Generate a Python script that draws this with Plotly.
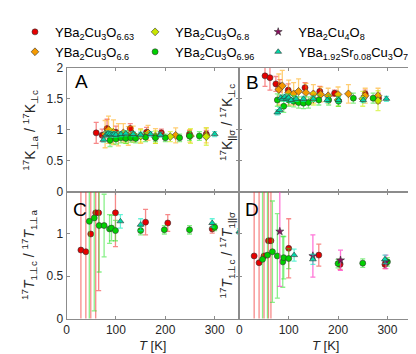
import plotly.graph_objects as go

# ---------------- data ----------------
# Panel A: 17K_perp_a / 17K_perp_c
A_T_663 = [60, 72, 82, 100, 129, 162, 192, 249, 283]
A_V_663 = [0.95, 0.91, 1.02, 0.96, 1.02, 0.96, 0.95, 0.93, 0.93]
A_E_663 = [0.17, 0.10, 0.15, 0.10, 0.08, 0.08, 0.06, 0.06, 0.06]
A_T_66 = [78, 85, 95, 105, 115, 125, 135, 150, 165, 180, 221, 250, 283]
A_V_66 = [0.93, 1.00, 0.96, 0.92, 0.95, 0.90, 0.93, 0.90, 0.95, 0.90, 0.91, 0.90, 0.91]
A_E_66 = [0.22, 0.22, 0.20, 0.18, 0.15, 0.15, 0.13, 0.12, 0.12, 0.12, 0.12, 0.10, 0.12]
A_T_68 = [90, 120, 150, 180, 210, 251, 283]
A_V_68 = [0.90, 0.88, 0.90, 0.88, 0.89, 0.90, 0.89]
A_E_68 = [0.12, 0.10, 0.10, 0.10, 0.08, 0.12, 0.14]
A_T_696 = [88, 100, 110, 120, 130, 140, 160, 180, 200, 229, 249, 269]
A_V_696 = [0.83, 0.85, 0.87, 0.86, 0.87, 0.86, 0.88, 0.87, 0.87, 0.87, 0.90, 0.90]
A_E_696 = [0.10, 0.08, 0.08, 0.08, 0.07, 0.07, 0.07, 0.06, 0.06, 0.06, 0.07, 0.07]
A_T_SR = [75, 80, 84, 88, 92, 96, 100, 110, 120, 135, 150, 170, 190, 300]
A_V_SR = [0.84, 0.92, 0.94, 0.93, 0.92, 0.93, 0.92, 0.93, 0.94, 0.93, 0.92, 0.93, 0.92, 0.93]
A_E_SR = [0.04] * 14

# Panel B: 17K_par_sigma / 17K_perp_c
B_T_663 = [52, 62, 74, 82, 99, 133, 163, 193, 255, 282]
B_V_663 = [1.87, 1.84, 1.74, 1.71, 1.64, 1.68, 1.62, 1.59, 1.58, 1.51]
B_E_663 = [0.17, 0.20, 0.12, 0.10, 0.10, 0.08, 0.08, 0.05, 0.06, 0.08]
B_T_66 = [80, 87, 100, 110, 120, 135, 150, 165, 180, 200, 221, 255, 281]
B_V_66 = [1.65, 1.71, 1.60, 1.58, 1.62, 1.60, 1.58, 1.57, 1.55, 1.57, 1.58, 1.55, 1.55]
B_E_66 = [0.25, 0.25, 0.20, 0.18, 0.20, 0.15, 0.15, 0.12, 0.12, 0.12, 0.15, 0.12, 0.12]
B_T_68 = [150, 200, 250, 281]
B_V_68 = [1.50, 1.48, 1.50, 1.47]
B_E_68 = [0.10, 0.10, 0.12, 0.16]
B_T_696 = [77, 90, 100, 110, 120, 130, 140, 161, 181, 201, 231, 271]
B_V_696 = [1.48, 1.38, 1.48, 1.46, 1.44, 1.43, 1.44, 1.48, 1.48, 1.46, 1.51, 1.51]
B_E_696 = [0.10, 0.10, 0.10, 0.09, 0.09, 0.09, 0.09, 0.08, 0.08, 0.08, 0.08, 0.08]
B_T_SR = [77, 82, 84, 88, 92, 96, 100, 105, 115, 130, 150, 178, 201, 251, 298]
B_V_SR = [1.28, 1.32, 1.52, 1.50, 1.53, 1.50, 1.52, 1.48, 1.50, 1.50, 1.50, 1.48, 1.48, 1.48, 1.50]
B_E_SR = [0.04] * 15

# Panel C: 17T1_perp_c / 17T1_perp_a
C_T_663 = [29, 39, 49, 59, 65, 99, 160, 205, 295]
C_V_663 = [0.81, 0.79, 1.00, 1.25, 1.25, 1.25, 1.14, 1.13, 1.06]
C_E_663 = [2.0, 2.0, 2.0, 2.0, 0.92, 0.40, 0.15, 0.10, 0.05]
C_T_696 = [46, 56, 66, 76, 87, 91, 99, 150, 198, 249, 300]
C_V_696 = [1.15, 1.19, 1.10, 1.10, 1.06, 1.07, 1.04, 1.04, 1.05, 1.05, 1.08]
C_E_696 = [2.0, 1.1, 0.55, 0.37, 0.17, 0.15, 0.12, 0.05, 0.05, 0.05, 0.04]
C_T_SR = [109, 150, 295, 350]
C_V_SR = [1.15, 1.11, 1.13, 1.03]
C_E_SR = [0.08, 0.07, 0.05, 0.03]

# Panel D: 17T1_perp_c / 17T1_par_sigma
D_T_663 = [30, 40, 50, 59, 64, 100, 161, 204, 295]
D_V_663 = [0.74, 0.66, 0.74, 0.92, 0.92, 0.83, 0.75, 0.64, 0.64]
D_E_663 = [2.0, 2.0, 2.0, 2.0, 2.0, 0.35, 0.13, 0.06, 0.05]
D_T_696 = [47, 57, 67, 77, 88, 90, 100, 200, 250, 300]
D_V_696 = [0.70, 0.75, 0.79, 0.74, 0.67, 0.72, 0.71, 0.65, 0.655, 0.67]
D_E_696 = [2.0, 2.0, 0.60, 0.50, 0.30, 0.25, 0.12, 0.05, 0.05, 0.05]
D_T_124 = [82, 149, 205, 297]
D_V_124 = [1.03, 0.74, 0.69, 0.67]
D_E_124 = [0.65, 0.25, 0.12, 0.08]
D_T_SR = [111, 149, 295, 350]
D_V_SR = [0.75, 0.70, 0.70, 0.67]
D_E_SR = [0.07, 0.06, 0.05, 0.03]

# ---------------- styles ----------------
SAMPLES = {
    "663": dict(name="YBa<sub>2</sub>Cu<sub>3</sub>O<sub>6.63</sub>", color="#e60000",
                err="rgba(240,40,40,0.55)", symbol="circle", legend="legend", rank=1),
    "66": dict(name="YBa<sub>2</sub>Cu<sub>3</sub>O<sub>6.6</sub>", color="#f59a00",
               err="rgba(255,165,0,0.55)", symbol="diamond", legend="legend", rank=2),
    "68": dict(name="YBa<sub>2</sub>Cu<sub>3</sub>O<sub>6.8</sub>", color="#c8e600",
               err="rgba(200,240,0,0.6)", symbol="diamond", legend="legend2", rank=1),
    "696": dict(name="YBa<sub>2</sub>Cu<sub>3</sub>O<sub>6.96</sub>", color="#00d000",
                err="rgba(40,230,40,0.55)", symbol="circle", legend="legend2", rank=2),
    "124": dict(name="YBa<sub>2</sub>Cu<sub>4</sub>O<sub>8</sub>", color="#8a1060",
                err="rgba(255,60,200,0.7)", symbol="star", legend="legend3", rank=1),
    "SR": dict(name="YBa<sub>1.92</sub>Sr<sub>0.08</sub>Cu<sub>3</sub>O<sub>7</sub>", color="#00d8a8",
               err="rgba(0,235,190,0.6)", symbol="triangle-up", legend="legend3", rank=2),
}

fig = go.Figure()
shown = set()


def add(key, T, V, E, xa, ya):
    s = SAMPLES[key]
    fig.add_trace(go.Scatter(
        x=T, y=V, mode="markers", name=s["name"], legendgroup=key,
        showlegend=key not in shown, legend=s["legend"], legendrank=s["rank"],
        xaxis=xa, yaxis=ya,
        marker=dict(color=s["color"], symbol=s["symbol"], size=6,
                    line=dict(color="#333333", width=0.6)),
        error_y=dict(type="data", array=E, visible=True, color=s["err"],
                     thickness=1.3, width=2.5),
    ))
    shown.add(key)


add("663", A_T_663, A_V_663, A_E_663, "x", "y")
add("66", A_T_66, A_V_66, A_E_66, "x", "y")
add("68", A_T_68, A_V_68, A_E_68, "x", "y")
add("696", A_T_696, A_V_696, A_E_696, "x", "y")
add("SR", A_T_SR, A_V_SR, A_E_SR, "x", "y")

add("663", B_T_663, B_V_663, B_E_663, "x2", "y2")
add("66", B_T_66, B_V_66, B_E_66, "x2", "y2")
add("68", B_T_68, B_V_68, B_E_68, "x2", "y2")
add("696", B_T_696, B_V_696, B_E_696, "x2", "y2")
add("SR", B_T_SR, B_V_SR, B_E_SR, "x2", "y2")

add("663", C_T_663, C_V_663, C_E_663, "x3", "y3")
add("696", C_T_696, C_V_696, C_E_696, "x3", "y3")
add("SR", C_T_SR, C_V_SR, C_E_SR, "x3", "y3")

add("663", D_T_663, D_V_663, D_E_663, "x4", "y4")
add("696", D_T_696, D_V_696, D_E_696, "x4", "y4")
add("124", D_T_124, D_V_124, D_E_124, "x4", "y4")
add("SR", D_T_SR, D_V_SR, D_E_SR, "x4", "y4")

W, H = 416, 354
XL = [56 / W, 230 / W]
XR = [230 / W, 404 / W]
YT = [1 - 184 / H, 1 - 55 / H]
YB = [1 - 316 / H, 1 - 184 / H]

TICKFONT = dict(family="Liberation Sans, Arial", size=12, color="#262626")
common = dict(showline=True, linecolor="#8c8c8c", linewidth=1, mirror="ticks",
              ticks="inside", ticklen=3, tickcolor="#8c8c8c", showgrid=False,
              zeroline=False, tickfont=TICKFONT)
xcommon = dict(common, range=[0, 350], tickvals=[0, 100, 200, 300])

LEGFONT = dict(family="Liberation Sans, Arial", size=13, color="#000000")
legcommon = dict(orientation="v", y=1 - 2 / H, xanchor="left", yanchor="top",
                 font=LEGFONT, bgcolor="rgba(0,0,0,0)", itemwidth=30,
                 traceorder="normal", tracegroupgap=0)

fig.update_layout(
    width=W, height=H, margin=dict(l=0, r=0, t=0, b=0),
    paper_bgcolor="white", plot_bgcolor="white",
    font=dict(family="Liberation Sans, Arial", color="#000000"),
    xaxis=dict(xcommon, domain=XL, anchor="y", showticklabels=False),
    yaxis=dict(common, domain=YT, anchor="x", range=[0, 2],
               tickvals=[0, 0.5, 1, 1.5, 2], ticktext=["0", "0.5", "1", "1.5", "2"]),
    xaxis2=dict(xcommon, domain=XR, anchor="y2", showticklabels=False),
    yaxis2=dict(common, domain=YT, anchor="x2", range=[0, 2],
                tickvals=[0, 0.5, 1, 1.5, 2], showticklabels=False),
    xaxis3=dict(xcommon, domain=XL, anchor="y3"),
    yaxis3=dict(common, domain=YB, anchor="x3", range=[0, 1.5],
                tickvals=[0, 0.5, 1, 1.5], ticktext=["0", "0.5", "1", ""]),
    xaxis4=dict(xcommon, domain=XR, anchor="y4"),
    yaxis4=dict(common, domain=YB, anchor="x4", range=[0, 1.5],
                tickvals=[0, 0.5, 1, 1.5], showticklabels=False),
    legend=dict(legcommon, x=4 / W),
    legend2=dict(legcommon, x=125 / W),
    legend3=dict(legcommon, x=249 / W),
)

TITLEFONT = dict(family="Liberation Sans, Arial", size=14, color="#262626")
ann = [
    (19 / W, 1 - 119.5 / H, "<sup>17</sup>K<sub>⊥a</sub> / <sup>17</sup>K<sub>⊥c</sub>"),
    (217 / W, 1 - 112 / H, "<sup>17</sup>K<sub>||σ</sub> / <sup>17</sup>K<sub>⊥c</sub>"),
    (18 / W, 1 - 250 / H, "<sup>17</sup><i>T</i><sub>1⊥c</sub> / <sup>17</sup><i>T</i><sub>1⊥a</sub>"),
    (218 / W, 1 - 250 / H, "<sup>17</sup><i>T</i><sub>1⊥c</sub> / <sup>17</sup><i>T</i><sub>1||σ</sub>"),
]
for x, y, t in ann:
    fig.add_annotation(x=x, y=y, xref="paper", yref="paper", text=t, textangle=-90,
                       showarrow=False, font=TITLEFONT, xanchor="center", yanchor="middle")

for x, t in [(143 / W, "<i>T</i> [K]"), (317 / W, "<i>T</i> [K]")]:
    fig.add_annotation(x=x, y=1 - 344 / H, xref="paper", yref="paper", text=t,
                       showarrow=False, font=dict(family="Liberation Sans, Arial", size=13, color="#262626"),
                       xanchor="center", yanchor="middle")

for x, y, t in [(71 / W, 1 - 69 / H, "A"), (243 / W, 1 - 70 / H, "B"),
                (70 / W, 1 - 202 / H, "C"), (243 / W, 1 - 202 / H, "D")]:
    fig.add_annotation(x=x, y=y, xref="paper", yref="paper", text=t, showarrow=False,
                       font=dict(family="Liberation Sans, Arial", size=19, color="#000000"),
                       xanchor="center", yanchor="middle")

fig.write_html("out.html")
